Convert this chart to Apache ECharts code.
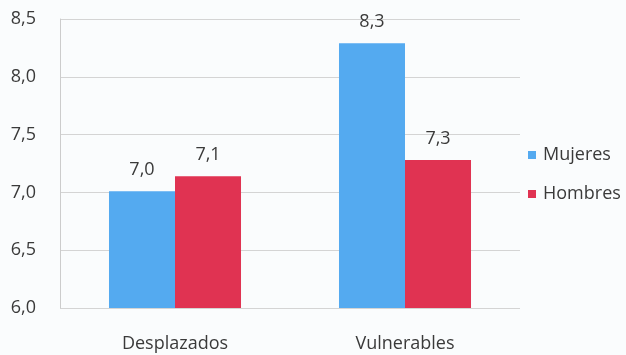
<!DOCTYPE html>
<html>
<head>
<meta charset="utf-8">
<script src="https://cdn.jsdelivr.net/npm/echarts@6/dist/echarts.min.js"></script>
<style>
  html, body { margin: 0; padding: 0; background: #fafcfd; }
  #chart { width: 626px; height: 355px; }
</style>
</head>
<body>
<div id="chart"></div>
<script>
const categories = ['Desplazados', 'Vulnerables'];
const mujeres = [7.01, 8.29];
const hombres = [7.14, 7.28];
const yTicks = { min: 6.0, max: 8.5, step: 0.5 };

const fontFamily = '"Open Sans", "Noto Sans", sans-serif';
const textColor = '#3a3a3a';
const fmt = v => v.toFixed(1).replace('.', ',');

const chart = echarts.init(document.getElementById('chart'));
chart.setOption({
  backgroundColor: '#fafcfd',
  animation: false,
  textStyle: { fontFamily },
  grid: { left: 60, right: 106, top: 19, bottom: 47 },
  legend: {
    orient: 'vertical',
    left: 523,
    top: 141,
    itemWidth: 8,
    itemHeight: 8,
    itemGap: 21,
    icon: 'rect',
    textStyle: { fontSize: 18, color: textColor, fontFamily, padding: [0, 0, 0, 2] },
    data: ['Mujeres', 'Hombres']
  },
  xAxis: {
    type: 'category',
    data: categories,
    axisTick: { show: false },
    axisLine: { show: false },
    axisLabel: { fontSize: 18, color: textColor, margin: 27 }
  },
  yAxis: {
    type: 'value',
    min: yTicks.min,
    max: yTicks.max,
    interval: yTicks.step,
    axisLine: { show: true, lineStyle: { color: '#cccccc' } },
    axisTick: { show: false },
    splitLine: { lineStyle: { color: '#d4d4d4' } },
    axisLabel: { fontSize: 18, color: textColor, margin: 24, formatter: v => fmt(v) }
  },
  series: [
    {
      name: 'Mujeres',
      type: 'bar',
      data: mujeres,
      barWidth: '28.7%',
      barGap: '0%',
      itemStyle: { color: '#54aaf0' },
      label: { show: true, position: 'top', distance: 12, fontSize: 18, color: textColor, formatter: p => fmt(p.value) }
    },
    {
      name: 'Hombres',
      type: 'bar',
      data: hombres,
      barWidth: '28.7%',
      itemStyle: { color: '#e03352' },
      label: { show: true, position: 'top', distance: 12, fontSize: 18, color: textColor, formatter: p => fmt(p.value) }
    }
  ]
});
</script>
</body>
</html>
